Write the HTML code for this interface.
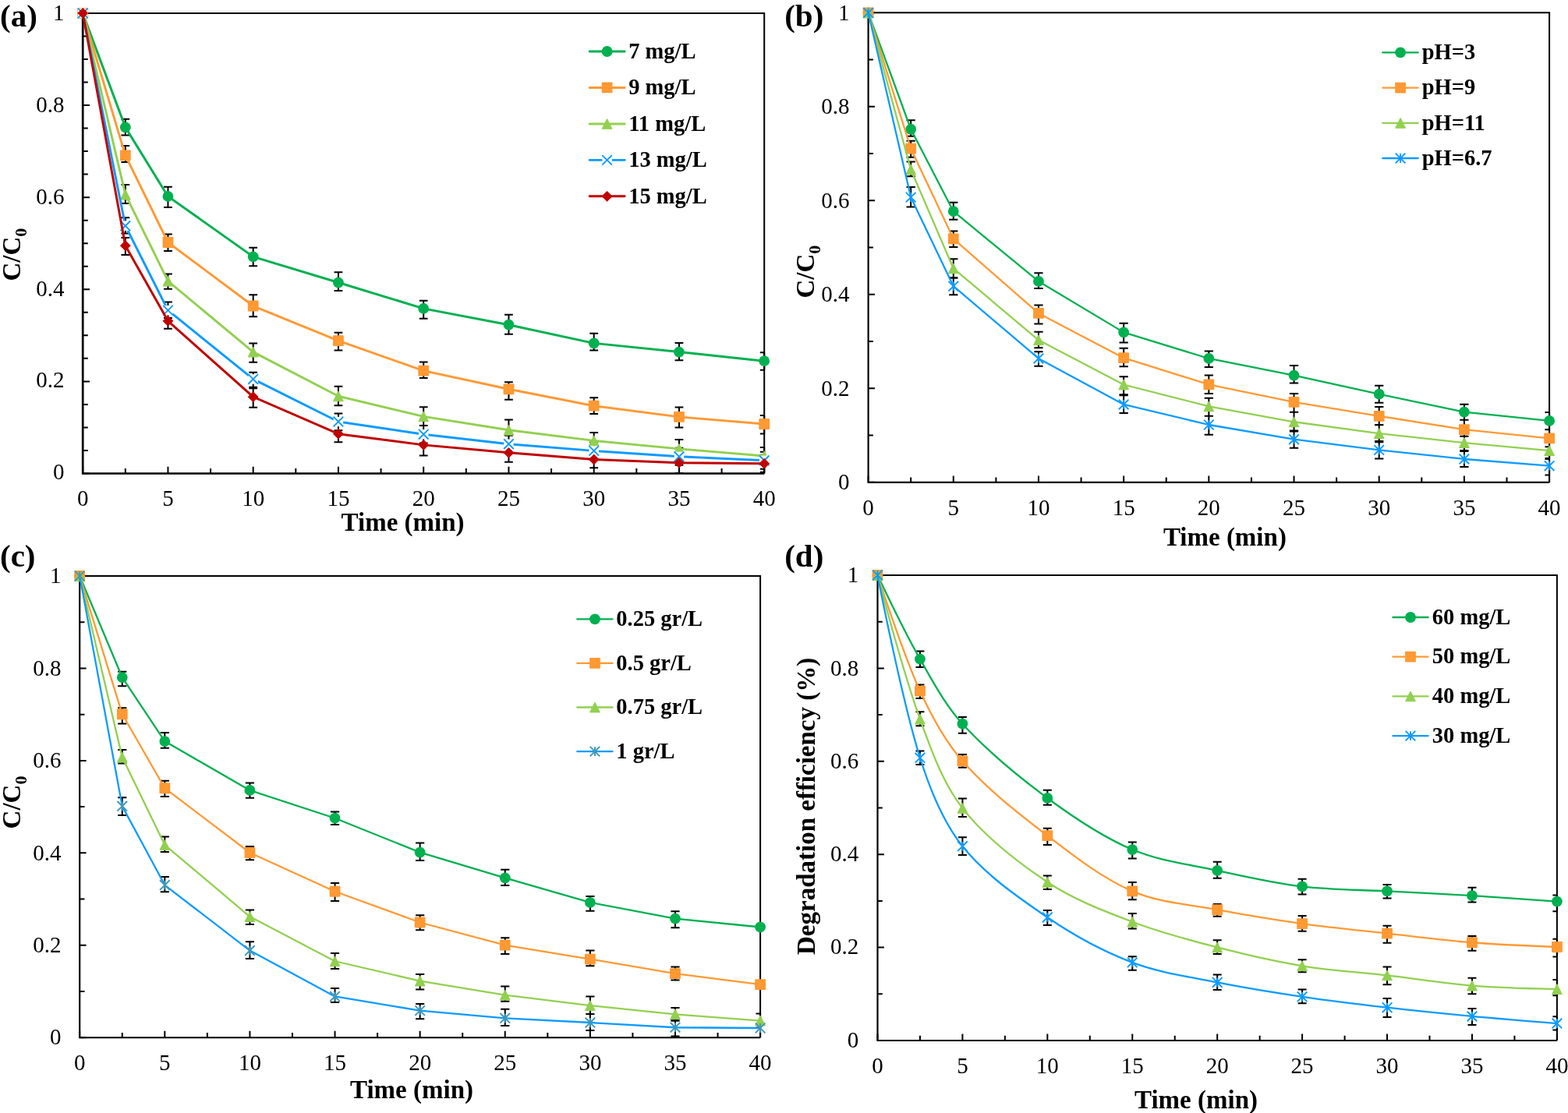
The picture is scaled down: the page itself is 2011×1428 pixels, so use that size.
<!DOCTYPE html>
<html lang="en">
<head>
<meta charset="utf-8">
<title>Degradation kinetics charts</title>
<style>
html,body{margin:0;padding:0;background:#fff;}
body{width:2011px;height:1428px;overflow:hidden;}
svg{display:block;}
text{font-family:"Liberation Serif",serif;fill:#000;font-kerning:normal;}
.tick text{font-size:29px;}
.leg{font-size:28.5px;font-weight:bold;}
.title{font-size:33px;font-weight:bold;}
.plabel{font-size:41px;font-weight:bold;}
</style>
</head>
<body>
<svg role="img" aria-label="Four line charts (a)-(d) of C/C0 and degradation efficiency versus time" width="2011" height="1428" viewBox="0 0 2011 1428">
<rect width="2011" height="1428" fill="#fff"/>
<g id="panel-a">
<path d="M106.2 16.9H980.2V607.5" fill="none" stroke="#000" stroke-width="2"/>
<path d="M106.2 607.5h8.8M106.2 577.97h6.6M106.2 548.44h6.6M106.2 518.91h6.6M106.2 489.38h8.8M106.2 459.85h6.6M106.2 430.32h6.6M106.2 400.79h6.6M106.2 371.26h8.8M106.2 341.73h6.6M106.2 312.2h6.6M106.2 282.67h6.6M106.2 253.14h8.8M106.2 223.61h6.6M106.2 194.08h6.6M106.2 164.55h6.6M106.2 135.02h8.8M106.2 105.49h6.6M106.2 75.96h6.6M106.2 46.43h6.6M106.2 16.9h8.8M106.2 607.5v-8.8M160.82 607.5v-6.6M215.45 607.5v-8.8M270.07 607.5v-6.6M324.7 607.5v-8.8M379.32 607.5v-6.6M433.95 607.5v-8.8M488.57 607.5v-6.6M543.2 607.5v-8.8M597.83 607.5v-6.6M652.45 607.5v-8.8M707.08 607.5v-6.6M761.7 607.5v-8.8M816.33 607.5v-6.6M870.95 607.5v-8.8M925.58 607.5v-6.6M980.2 607.5v-8.8" fill="none" stroke="#000" stroke-width="2"/>
<path d="M106.2 16.9V607.5H980.2" fill="none" stroke="#000" stroke-width="2.7" stroke-linejoin="miter"/>
<g class="tick">
<text x="82.4" y="615.2" text-anchor="end">0</text>
<text x="82.4" y="497.38" text-anchor="end">0.2</text>
<text x="82.4" y="379.56" text-anchor="end">0.4</text>
<text x="82.4" y="261.74" text-anchor="end">0.6</text>
<text x="82.4" y="143.92" text-anchor="end">0.8</text>
<text x="82.4" y="26.1" text-anchor="end">1</text>
<text x="106.2" y="648.7" text-anchor="middle">0</text>
<text x="215.45" y="648.7" text-anchor="middle">5</text>
<text x="324.7" y="648.7" text-anchor="middle">10</text>
<text x="433.95" y="648.7" text-anchor="middle">15</text>
<text x="543.2" y="648.7" text-anchor="middle">20</text>
<text x="652.45" y="648.7" text-anchor="middle">25</text>
<text x="761.7" y="648.7" text-anchor="middle">30</text>
<text x="870.95" y="648.7" text-anchor="middle">35</text>
<text x="980.2" y="648.7" text-anchor="middle">40</text>
</g>
<path d="M160.82 152.8V173.4M155.42 152.8H166.22M155.42 173.4H166.22M215.45 239.7V265.9M210.05 239.7H220.85M210.05 265.9H220.85M324.7 317.8V341.2M319.3 317.8H330.1M319.3 341.2H330.1M433.95 349.3V373.1M428.55 349.3H439.35M428.55 373.1H439.35M543.2 385.7V408.8M537.8 385.7H548.6M537.8 408.8H548.6M652.45 403.8V428.7M647.05 403.8H657.85M647.05 428.7H657.85M761.7 427.7V449.6M756.3 427.7H767.1M756.3 449.6H767.1M870.95 439.9V462.2M865.55 439.9H876.35M865.55 462.2H876.35M980.2 452.3V474.7M974.8 452.3H980.2M974.8 474.7H980.2M160.82 187.1V207.9M155.42 187.1H166.22M155.42 207.9H166.22M215.45 300.6V322M210.05 300.6H220.85M210.05 322H220.85M324.7 378.2V406.3M319.3 378.2H330.1M319.3 406.3H330.1M433.95 426.7V449.6M428.55 426.7H439.35M428.55 449.6H439.35M543.2 464.5V484.9M537.8 464.5H548.6M537.8 484.9H548.6M652.45 490.3V512.7M647.05 490.3H657.85M647.05 512.7H657.85M761.7 510.2V531.1M756.3 510.2H767.1M756.3 531.1H767.1M870.95 522.4V548.5M865.55 522.4H876.35M865.55 548.5H876.35M980.2 532.9V556.5M974.8 532.9H980.2M974.8 556.5H980.2M160.82 237V261.1M155.42 237H166.22M155.42 261.1H166.22M215.45 351.6V370.8M210.05 351.6H220.85M210.05 370.8H220.85M324.7 440.6V464.7M319.3 440.6H330.1M319.3 464.7H330.1M433.95 495.8V520.2M428.55 495.8H439.35M428.55 520.2H439.35M543.2 522.2V546M537.8 522.2H548.6M537.8 546H548.6M652.45 538.6V564.7M647.05 538.6H657.85M647.05 564.7H657.85M761.7 555V575.9M756.3 555H767.1M756.3 575.9H767.1M870.95 563.9V588.3M865.55 563.9H876.35M865.55 588.3H876.35M980.2 574.06V596.06M974.8 574.06H980.2M974.8 596.06H980.2M160.82 279.3V299.5M155.42 279.3H166.22M155.42 299.5H166.22M215.45 387.4V408M210.05 387.4H220.85M210.05 408H220.85M324.7 477.7V498.3M319.3 477.7H330.1M319.3 498.3H330.1M433.95 530.6V552.3M428.55 530.6H439.35M428.55 552.3H439.35M543.2 546V568.4M537.8 546H548.6M537.8 568.4H548.6M652.45 558.7V580.7M647.05 558.7H657.85M647.05 580.7H657.85M761.7 567.38V589.38M756.3 567.38H767.1M756.3 589.38H767.1M870.95 574.82V596.82M865.55 574.82H876.35M865.55 596.82H876.35M980.2 579.79V601.79M974.8 579.79H980.2M974.8 601.79H980.2M160.82 305.1V327M155.42 305.1H166.22M155.42 327H166.22M215.45 401.8V421.7M210.05 401.8H220.85M210.05 421.7H220.85M324.7 496.8V522.7M319.3 496.8H330.1M319.3 522.7H330.1M433.95 546V567.2M428.55 546H439.35M428.55 567.2H439.35M543.2 558V584.6M537.8 558H548.6M537.8 584.6H548.6M652.45 568.4V592.8M647.05 568.4H657.85M647.05 592.8H657.85M761.7 578.4V600.2M756.3 578.4H767.1M756.3 600.2H767.1M870.95 582V606.9M865.55 582H876.35M865.55 606.9H876.35M980.2 583.8V605.8M974.8 583.8H980.2M974.8 605.8H980.2" fill="none" stroke="#000" stroke-width="2"/>
<path d="M106.2 16.9L160.82 163.37L215.45 251.96L324.7 329.33L433.95 362.52L543.2 395.89L652.45 416.74L761.7 440.36L870.95 451.58L980.2 463.16" fill="none" stroke="#00B050" stroke-width="2.95" stroke-linejoin="round" stroke-linecap="round"/>
<circle cx="106.2" cy="16.9" r="6.9" fill="#00B050"/><circle cx="160.82" cy="163.37" r="6.9" fill="#00B050"/><circle cx="215.45" cy="251.96" r="6.9" fill="#00B050"/><circle cx="324.7" cy="329.33" r="6.9" fill="#00B050"/><circle cx="433.95" cy="362.52" r="6.9" fill="#00B050"/><circle cx="543.2" cy="395.89" r="6.9" fill="#00B050"/><circle cx="652.45" cy="416.74" r="6.9" fill="#00B050"/><circle cx="761.7" cy="440.36" r="6.9" fill="#00B050"/><circle cx="870.95" cy="451.58" r="6.9" fill="#00B050"/><circle cx="980.2" cy="463.16" r="6.9" fill="#00B050"/>
<path d="M106.2 16.9L160.82 199.4L215.45 311.02L324.7 392.52L433.95 437.11L543.2 475.68L652.45 499.3L761.7 520.68L870.95 534.86L980.2 544.01" fill="none" stroke="#FF9933" stroke-width="2.95" stroke-linejoin="round" stroke-linecap="round"/>
<rect x="99.3" y="10" width="13.8" height="13.8" rx="0.8" fill="#FF9933"/><rect x="153.92" y="192.5" width="13.8" height="13.8" rx="0.8" fill="#FF9933"/><rect x="208.55" y="304.12" width="13.8" height="13.8" rx="0.8" fill="#FF9933"/><rect x="317.8" y="385.62" width="13.8" height="13.8" rx="0.8" fill="#FF9933"/><rect x="427.05" y="430.21" width="13.8" height="13.8" rx="0.8" fill="#FF9933"/><rect x="536.3" y="468.78" width="13.8" height="13.8" rx="0.8" fill="#FF9933"/><rect x="645.55" y="492.4" width="13.8" height="13.8" rx="0.8" fill="#FF9933"/><rect x="754.8" y="513.78" width="13.8" height="13.8" rx="0.8" fill="#FF9933"/><rect x="864.05" y="527.96" width="13.8" height="13.8" rx="0.8" fill="#FF9933"/><rect x="973.3" y="537.11" width="13.8" height="13.8" rx="0.8" fill="#FF9933"/>
<path d="M106.2 16.9L160.82 249.6L215.45 360.63L324.7 451.58L433.95 508.28L543.2 534.38L652.45 551.81L761.7 565.39L870.95 575.9L980.2 585.06" fill="none" stroke="#92D050" stroke-width="2.95" stroke-linejoin="round" stroke-linecap="round"/>
<path d="M106.2 10.5L112.6 23.3L99.8 23.3Z" fill="#92D050" stroke="#92D050" stroke-width="1" stroke-linejoin="round"/><path d="M160.82 243.2L167.22 256L154.42 256Z" fill="#92D050" stroke="#92D050" stroke-width="1" stroke-linejoin="round"/><path d="M215.45 354.23L221.85 367.03L209.05 367.03Z" fill="#92D050" stroke="#92D050" stroke-width="1" stroke-linejoin="round"/><path d="M324.7 445.18L331.1 457.98L318.3 457.98Z" fill="#92D050" stroke="#92D050" stroke-width="1" stroke-linejoin="round"/><path d="M433.95 501.88L440.35 514.68L427.55 514.68Z" fill="#92D050" stroke="#92D050" stroke-width="1" stroke-linejoin="round"/><path d="M543.2 527.98L549.6 540.78L536.8 540.78Z" fill="#92D050" stroke="#92D050" stroke-width="1" stroke-linejoin="round"/><path d="M652.45 545.41L658.85 558.21L646.05 558.21Z" fill="#92D050" stroke="#92D050" stroke-width="1" stroke-linejoin="round"/><path d="M761.7 558.99L768.1 571.79L755.3 571.79Z" fill="#92D050" stroke="#92D050" stroke-width="1" stroke-linejoin="round"/><path d="M870.95 569.5L877.35 582.3L864.55 582.3Z" fill="#92D050" stroke="#92D050" stroke-width="1" stroke-linejoin="round"/><path d="M980.2 578.66L986.6 591.46L973.8 591.46Z" fill="#92D050" stroke="#92D050" stroke-width="1" stroke-linejoin="round"/>
<path d="M106.2 16.9L160.82 289.76L215.45 398.13L324.7 486.43L433.95 541L543.2 557.18L652.45 569.7L761.7 578.38L870.95 585.82L980.2 590.79" fill="none" stroke="#0C9BFF" stroke-width="2.95" stroke-linejoin="round" stroke-linecap="round"/>
<rect x="100" y="10.7" width="12.4" height="12.4" fill="#fff"/><path d="M99.9 10.6L112.5 23.2M99.9 23.2L112.5 10.6" stroke="#0C9BFF" stroke-width="1.9" fill="none"/><rect x="154.62" y="283.56" width="12.4" height="12.4" fill="#fff"/><path d="M154.52 283.46L167.12 296.06M154.52 296.06L167.12 283.46" stroke="#0C9BFF" stroke-width="1.9" fill="none"/><rect x="209.25" y="391.93" width="12.4" height="12.4" fill="#fff"/><path d="M209.15 391.83L221.75 404.43M209.15 404.43L221.75 391.83" stroke="#0C9BFF" stroke-width="1.9" fill="none"/><rect x="318.5" y="480.23" width="12.4" height="12.4" fill="#fff"/><path d="M318.4 480.13L331 492.73M318.4 492.73L331 480.13" stroke="#0C9BFF" stroke-width="1.9" fill="none"/><rect x="427.75" y="534.8" width="12.4" height="12.4" fill="#fff"/><path d="M427.65 534.7L440.25 547.3M427.65 547.3L440.25 534.7" stroke="#0C9BFF" stroke-width="1.9" fill="none"/><rect x="537" y="550.98" width="12.4" height="12.4" fill="#fff"/><path d="M536.9 550.88L549.5 563.48M536.9 563.48L549.5 550.88" stroke="#0C9BFF" stroke-width="1.9" fill="none"/><rect x="646.25" y="563.5" width="12.4" height="12.4" fill="#fff"/><path d="M646.15 563.4L658.75 576M646.15 576L658.75 563.4" stroke="#0C9BFF" stroke-width="1.9" fill="none"/><rect x="755.5" y="572.18" width="12.4" height="12.4" fill="#fff"/><path d="M755.4 572.08L768 584.68M755.4 584.68L768 572.08" stroke="#0C9BFF" stroke-width="1.9" fill="none"/><rect x="864.75" y="579.62" width="12.4" height="12.4" fill="#fff"/><path d="M864.65 579.52L877.25 592.12M864.65 592.12L877.25 579.52" stroke="#0C9BFF" stroke-width="1.9" fill="none"/><rect x="974" y="584.59" width="12.4" height="12.4" fill="#fff"/><path d="M973.9 584.49L986.5 597.09M973.9 597.09L986.5 584.49" stroke="#0C9BFF" stroke-width="1.9" fill="none"/>
<path d="M106.2 16.9L160.82 315.15L215.45 411.78L324.7 509.22L433.95 556.71L543.2 570.88L652.45 580.8L761.7 589.49L870.95 593.8L980.2 594.8" fill="none" stroke="#C00000" stroke-width="2.95" stroke-linejoin="round" stroke-linecap="round"/>
<path d="M106.2 10.5L112.6 16.9L106.2 23.3L99.8 16.9Z" fill="#C00000" stroke="#C00000" stroke-width="1" stroke-linejoin="round"/><path d="M160.82 308.75L167.22 315.15L160.82 321.55L154.42 315.15Z" fill="#C00000" stroke="#C00000" stroke-width="1" stroke-linejoin="round"/><path d="M215.45 405.38L221.85 411.78L215.45 418.18L209.05 411.78Z" fill="#C00000" stroke="#C00000" stroke-width="1" stroke-linejoin="round"/><path d="M324.7 502.82L331.1 509.22L324.7 515.62L318.3 509.22Z" fill="#C00000" stroke="#C00000" stroke-width="1" stroke-linejoin="round"/><path d="M433.95 550.31L440.35 556.71L433.95 563.11L427.55 556.71Z" fill="#C00000" stroke="#C00000" stroke-width="1" stroke-linejoin="round"/><path d="M543.2 564.48L549.6 570.88L543.2 577.28L536.8 570.88Z" fill="#C00000" stroke="#C00000" stroke-width="1" stroke-linejoin="round"/><path d="M652.45 574.4L658.85 580.8L652.45 587.2L646.05 580.8Z" fill="#C00000" stroke="#C00000" stroke-width="1" stroke-linejoin="round"/><path d="M761.7 583.09L768.1 589.49L761.7 595.89L755.3 589.49Z" fill="#C00000" stroke="#C00000" stroke-width="1" stroke-linejoin="round"/><path d="M870.95 587.4L877.35 593.8L870.95 600.2L864.55 593.8Z" fill="#C00000" stroke="#C00000" stroke-width="1" stroke-linejoin="round"/><path d="M980.2 588.4L986.6 594.8L980.2 601.2L973.8 594.8Z" fill="#C00000" stroke="#C00000" stroke-width="1" stroke-linejoin="round"/>
<path d="M756.18 66H801.12" stroke="#00B050" stroke-width="2.95" stroke-linecap="round" fill="none"/>
<circle cx="778.6" cy="66" r="6.9" fill="#00B050"/>
<text class="leg" x="806.2" y="74.7">7 mg/L</text>
<path d="M756.18 112.45H801.12" stroke="#FF9933" stroke-width="2.95" stroke-linecap="round" fill="none"/>
<rect x="771.7" y="105.55" width="13.8" height="13.8" rx="0.8" fill="#FF9933"/>
<text class="leg" x="806.2" y="121.15">9 mg/L</text>
<path d="M756.18 158.9H801.12" stroke="#92D050" stroke-width="2.95" stroke-linecap="round" fill="none"/>
<path d="M778.6 152.5L785 165.3L772.2 165.3Z" fill="#92D050" stroke="#92D050" stroke-width="1" stroke-linejoin="round"/>
<text class="leg" x="806.2" y="167.6">11 mg/L</text>
<path d="M756.18 205.35H801.12" stroke="#0C9BFF" stroke-width="2.95" stroke-linecap="round" fill="none"/>
<rect x="772.4" y="199.15" width="12.4" height="12.4" fill="#fff"/><path d="M772.3 199.05L784.9 211.65M772.3 211.65L784.9 199.05" stroke="#0C9BFF" stroke-width="1.9" fill="none"/>
<text class="leg" x="806.2" y="214.05">13 mg/L</text>
<path d="M756.18 251.8H801.12" stroke="#C00000" stroke-width="2.95" stroke-linecap="round" fill="none"/>
<path d="M778.6 245.4L785 251.8L778.6 258.2L772.2 251.8Z" fill="#C00000" stroke="#C00000" stroke-width="1" stroke-linejoin="round"/>
<text class="leg" x="806.2" y="260.5">15 mg/L</text>
<text class="title" transform="translate(25.7 360.6) rotate(-90)">C/C<tspan font-size="22.01" dy="8">0</tspan></text>
<text class="title" x="516.6" y="681" text-anchor="middle">Time (min)</text>
<text class="plabel" x="0" y="34.3">(a)</text>
</g>
<g id="panel-b">
<path d="M1113.6 16.35H1987.1V618.8" fill="none" stroke="#000" stroke-width="2"/>
<path d="M1113.6 618.8h8.4M1113.6 558.55h6.3M1113.6 498.31h8.4M1113.6 438.06h6.3M1113.6 377.82h8.4M1113.6 317.57h6.3M1113.6 257.33h8.4M1113.6 197.08h6.3M1113.6 136.84h8.4M1113.6 76.6h6.3M1113.6 16.35h8.4M1113.6 618.8v-8.4M1168.19 618.8v-6.3M1222.79 618.8v-8.4M1277.38 618.8v-6.3M1331.97 618.8v-8.4M1386.57 618.8v-6.3M1441.16 618.8v-8.4M1495.76 618.8v-6.3M1550.35 618.8v-8.4M1604.94 618.8v-6.3M1659.54 618.8v-8.4M1714.13 618.8v-6.3M1768.72 618.8v-8.4M1823.32 618.8v-6.3M1877.91 618.8v-8.4M1932.51 618.8v-6.3M1987.1 618.8v-8.4" fill="none" stroke="#000" stroke-width="2"/>
<path d="M1113.6 16.35V618.8H1987.1" fill="none" stroke="#000" stroke-width="2.15" stroke-linejoin="miter"/>
<g class="tick">
<text x="1089.4" y="628.4" text-anchor="end">0</text>
<text x="1089.4" y="507.83" text-anchor="end">0.2</text>
<text x="1089.4" y="387.26" text-anchor="end">0.4</text>
<text x="1089.4" y="266.69" text-anchor="end">0.6</text>
<text x="1089.4" y="146.12" text-anchor="end">0.8</text>
<text x="1089.4" y="25.55" text-anchor="end">1</text>
<text x="1113.6" y="661" text-anchor="middle">0</text>
<text x="1222.79" y="661" text-anchor="middle">5</text>
<text x="1331.97" y="661" text-anchor="middle">10</text>
<text x="1441.16" y="661" text-anchor="middle">15</text>
<text x="1550.35" y="661" text-anchor="middle">20</text>
<text x="1659.54" y="661" text-anchor="middle">25</text>
<text x="1768.72" y="661" text-anchor="middle">30</text>
<text x="1877.91" y="661" text-anchor="middle">35</text>
<text x="1987.1" y="661" text-anchor="middle">40</text>
</g>
<path d="M1168.19 154.2V174.8M1162.54 154.2H1173.84M1162.54 174.8H1173.84M1222.79 259.8V281.7M1217.14 259.8H1228.44M1217.14 281.7H1228.44M1331.97 350.3V370M1326.32 350.3H1337.62M1326.32 370H1337.62M1441.16 414.7V439.6M1435.51 414.7H1446.81M1435.51 439.6H1446.81M1550.35 450.4V471.1M1544.7 450.4H1556M1544.7 471.1H1556M1659.54 469.1V491.4M1653.89 469.1H1665.19M1653.89 491.4H1665.19M1768.72 494.72V516.72M1763.07 494.72H1774.38M1763.07 516.72H1774.38M1877.91 518.67V538.67M1872.26 518.67H1883.56M1872.26 538.67H1883.56M1987.1 528.88V550.88M1981.45 528.88H1987.1M1981.45 550.88H1987.1M1168.19 180.7V201.8M1162.54 180.7H1173.84M1162.54 201.8H1173.84M1222.79 296.4V317M1217.14 296.4H1228.44M1217.14 317H1228.44M1331.97 391.4V415.4M1326.32 391.4H1337.62M1326.32 415.4H1337.62M1441.16 446.8V470.2M1435.51 446.8H1446.81M1435.51 470.2H1446.81M1550.35 481.5V505.1M1544.7 481.5H1556M1544.7 505.1H1556M1659.54 505.1V528.7M1653.89 505.1H1665.19M1653.89 528.7H1665.19M1768.72 522V544.9M1763.07 522H1774.38M1763.07 544.9H1774.38M1877.91 538.7V559.8M1872.26 538.7H1883.56M1872.26 559.8H1883.56M1987.1 551.29V573.29M1981.45 551.29H1987.1M1981.45 573.29H1987.1M1168.19 207.6V226.3M1162.54 207.6H1173.84M1162.54 226.3H1173.84M1222.79 332.2V356.8M1217.14 332.2H1228.44M1217.14 356.8H1228.44M1331.97 425.8V446.2M1326.32 425.8H1337.62M1326.32 446.2H1337.62M1441.16 483.3V506.3M1435.51 483.3H1446.81M1435.51 506.3H1446.81M1550.35 510.8V533.7M1544.7 510.8H1556M1544.7 533.7H1556M1659.54 528.7V553.6M1653.89 528.7H1665.19M1653.89 553.6H1665.19M1768.72 545.15V567.15M1763.07 545.15H1774.38M1763.07 567.15H1774.38M1877.91 557.07V579.07M1872.26 557.07H1883.56M1872.26 579.07H1883.56M1987.1 567.07V589.07M1981.45 567.07H1987.1M1981.45 589.07H1987.1M1168.19 240V265.5M1162.54 240H1173.84M1162.54 265.5H1173.84M1222.79 356.2V378.2M1217.14 356.2H1228.44M1217.14 378.2H1228.44M1331.97 451.3V469.8M1326.32 451.3H1337.62M1326.32 469.8H1337.62M1441.16 507.2V530M1435.51 507.2H1446.81M1435.51 530H1446.81M1550.35 533.7V557.8M1544.7 533.7H1556M1544.7 557.8H1556M1659.54 552.4V574.7M1653.89 552.4H1665.19M1653.89 574.7H1665.19M1768.72 566V588.4M1763.07 566H1774.38M1763.07 588.4H1774.38M1877.91 578V599.1M1872.26 578H1883.56M1872.26 599.1H1883.56M1987.1 587.9V609.5M1981.45 587.9H1987.1M1981.45 609.5H1987.1" fill="none" stroke="#000" stroke-width="2"/>
<path d="M1113.6 16.35L1168.19 165.76L1222.79 271.19L1331.97 360.95L1441.16 426.38L1550.35 459.99L1659.54 481.56L1768.72 505.72L1877.91 528.67L1987.1 539.88" fill="none" stroke="#00B050" stroke-width="2.3" stroke-linejoin="round" stroke-linecap="round"/>
<circle cx="1113.6" cy="16.35" r="6.9" fill="#00B050"/><circle cx="1168.19" cy="165.76" r="6.9" fill="#00B050"/><circle cx="1222.79" cy="271.19" r="6.9" fill="#00B050"/><circle cx="1331.97" cy="360.95" r="6.9" fill="#00B050"/><circle cx="1441.16" cy="426.38" r="6.9" fill="#00B050"/><circle cx="1550.35" cy="459.99" r="6.9" fill="#00B050"/><circle cx="1659.54" cy="481.56" r="6.9" fill="#00B050"/><circle cx="1768.72" cy="505.72" r="6.9" fill="#00B050"/><circle cx="1877.91" cy="528.67" r="6.9" fill="#00B050"/><circle cx="1987.1" cy="539.88" r="6.9" fill="#00B050"/>
<path d="M1113.6 16.35L1168.19 190.64L1222.79 306.37L1331.97 401.92L1441.16 459.15L1550.35 493.31L1659.54 515.9L1768.72 533.79L1877.91 551.08L1987.1 562.29" fill="none" stroke="#FF9933" stroke-width="2.3" stroke-linejoin="round" stroke-linecap="round"/>
<rect x="1106.7" y="9.45" width="13.8" height="13.8" rx="0.8" fill="#FF9933"/><rect x="1161.29" y="183.74" width="13.8" height="13.8" rx="0.8" fill="#FF9933"/><rect x="1215.89" y="299.47" width="13.8" height="13.8" rx="0.8" fill="#FF9933"/><rect x="1325.07" y="395.02" width="13.8" height="13.8" rx="0.8" fill="#FF9933"/><rect x="1434.26" y="452.25" width="13.8" height="13.8" rx="0.8" fill="#FF9933"/><rect x="1543.45" y="486.41" width="13.8" height="13.8" rx="0.8" fill="#FF9933"/><rect x="1652.64" y="509" width="13.8" height="13.8" rx="0.8" fill="#FF9933"/><rect x="1761.82" y="526.89" width="13.8" height="13.8" rx="0.8" fill="#FF9933"/><rect x="1871.01" y="544.18" width="13.8" height="13.8" rx="0.8" fill="#FF9933"/><rect x="1980.2" y="555.39" width="13.8" height="13.8" rx="0.8" fill="#FF9933"/>
<path d="M1113.6 16.35L1168.19 217.57L1222.79 344.44L1331.97 436.26L1441.16 493.49L1550.35 521.38L1659.54 541.26L1768.72 556.15L1877.91 568.07L1987.1 578.07" fill="none" stroke="#92D050" stroke-width="2.3" stroke-linejoin="round" stroke-linecap="round"/>
<path d="M1113.6 9.95L1120 22.75L1107.2 22.75Z" fill="#92D050" stroke="#92D050" stroke-width="1" stroke-linejoin="round"/><path d="M1168.19 211.17L1174.59 223.97L1161.79 223.97Z" fill="#92D050" stroke="#92D050" stroke-width="1" stroke-linejoin="round"/><path d="M1222.79 338.04L1229.19 350.84L1216.39 350.84Z" fill="#92D050" stroke="#92D050" stroke-width="1" stroke-linejoin="round"/><path d="M1331.97 429.86L1338.38 442.66L1325.57 442.66Z" fill="#92D050" stroke="#92D050" stroke-width="1" stroke-linejoin="round"/><path d="M1441.16 487.09L1447.56 499.89L1434.76 499.89Z" fill="#92D050" stroke="#92D050" stroke-width="1" stroke-linejoin="round"/><path d="M1550.35 514.98L1556.75 527.78L1543.95 527.78Z" fill="#92D050" stroke="#92D050" stroke-width="1" stroke-linejoin="round"/><path d="M1659.54 534.86L1665.94 547.66L1653.14 547.66Z" fill="#92D050" stroke="#92D050" stroke-width="1" stroke-linejoin="round"/><path d="M1768.72 549.75L1775.12 562.55L1762.32 562.55Z" fill="#92D050" stroke="#92D050" stroke-width="1" stroke-linejoin="round"/><path d="M1877.91 561.67L1884.31 574.47L1871.51 574.47Z" fill="#92D050" stroke="#92D050" stroke-width="1" stroke-linejoin="round"/><path d="M1987.1 571.67L1993.5 584.47L1980.7 584.47Z" fill="#92D050" stroke="#92D050" stroke-width="1" stroke-linejoin="round"/>
<path d="M1113.6 16.35L1168.19 253.11L1222.79 367.16L1331.97 459.93L1441.16 518.91L1550.35 545L1659.54 563.68L1768.72 577.35L1877.91 588.98L1987.1 597.71" fill="none" stroke="#0C9BFF" stroke-width="2.3" stroke-linejoin="round" stroke-linecap="round"/>
<path d="M1107.3 10.05L1119.9 22.65M1107.3 22.65L1119.9 10.05M1113.6 10.45L1113.6 22.25" stroke="#0C9BFF" stroke-width="1.9" fill="none"/><path d="M1161.89 246.81L1174.49 259.41M1161.89 259.41L1174.49 246.81M1168.19 247.21L1168.19 259.01" stroke="#0C9BFF" stroke-width="1.9" fill="none"/><path d="M1216.49 360.86L1229.09 373.46M1216.49 373.46L1229.09 360.86M1222.79 361.26L1222.79 373.06" stroke="#0C9BFF" stroke-width="1.9" fill="none"/><path d="M1325.67 453.63L1338.27 466.23M1325.67 466.23L1338.27 453.63M1331.97 454.03L1331.97 465.83" stroke="#0C9BFF" stroke-width="1.9" fill="none"/><path d="M1434.86 512.61L1447.46 525.21M1434.86 525.21L1447.46 512.61M1441.16 513.01L1441.16 524.81" stroke="#0C9BFF" stroke-width="1.9" fill="none"/><path d="M1544.05 538.7L1556.65 551.3M1544.05 551.3L1556.65 538.7M1550.35 539.1L1550.35 550.9" stroke="#0C9BFF" stroke-width="1.9" fill="none"/><path d="M1653.24 557.38L1665.84 569.98M1653.24 569.98L1665.84 557.38M1659.54 557.78L1659.54 569.58" stroke="#0C9BFF" stroke-width="1.9" fill="none"/><path d="M1762.42 571.05L1775.02 583.65M1762.42 583.65L1775.02 571.05M1768.72 571.45L1768.72 583.25" stroke="#0C9BFF" stroke-width="1.9" fill="none"/><path d="M1871.61 582.68L1884.21 595.28M1871.61 595.28L1884.21 582.68M1877.91 583.08L1877.91 594.88" stroke="#0C9BFF" stroke-width="1.9" fill="none"/><path d="M1980.8 591.41L1993.4 604.01M1980.8 604.01L1993.4 591.41M1987.1 591.81L1987.1 603.61" stroke="#0C9BFF" stroke-width="1.9" fill="none"/>
<path d="M1773.35 67.4H1818.65" stroke="#00B050" stroke-width="2.3" stroke-linecap="round" fill="none"/>
<circle cx="1796.1" cy="67.4" r="6.9" fill="#00B050"/>
<text class="leg" x="1823.7" y="76.1">pH=3</text>
<path d="M1773.35 112.6H1818.65" stroke="#FF9933" stroke-width="2.3" stroke-linecap="round" fill="none"/>
<rect x="1789.2" y="105.7" width="13.8" height="13.8" rx="0.8" fill="#FF9933"/>
<text class="leg" x="1823.7" y="121.3">pH=9</text>
<path d="M1773.35 157.8H1818.65" stroke="#92D050" stroke-width="2.3" stroke-linecap="round" fill="none"/>
<path d="M1796.1 151.4L1802.5 164.2L1789.7 164.2Z" fill="#92D050" stroke="#92D050" stroke-width="1" stroke-linejoin="round"/>
<text class="leg" x="1823.7" y="166.5">pH=11</text>
<path d="M1773.35 203H1818.65" stroke="#0C9BFF" stroke-width="2.3" stroke-linecap="round" fill="none"/>
<path d="M1789.8 196.7L1802.4 209.3M1789.8 209.3L1802.4 196.7M1796.1 197.1L1796.1 208.9" stroke="#0C9BFF" stroke-width="1.9" fill="none"/>
<text class="leg" x="1823.7" y="211.7">pH=6.7</text>
<text class="title" transform="translate(1043.5 382.5) rotate(-90)">C/C<tspan font-size="22.01" dy="8">0</tspan></text>
<text class="title" x="1570.9" y="699.7" text-anchor="middle">Time (min)</text>
<text class="plabel" x="1006.2" y="34">(b)</text>
</g>
<g id="panel-c">
<path d="M102.2 739H975.1V1331.2" fill="none" stroke="#000" stroke-width="2"/>
<path d="M102.2 1331.2h8.4M102.2 1271.98h6.3M102.2 1212.76h8.4M102.2 1153.54h6.3M102.2 1094.32h8.4M102.2 1035.1h6.3M102.2 975.88h8.4M102.2 916.66h6.3M102.2 857.44h8.4M102.2 798.22h6.3M102.2 739h8.4M102.2 1331.2v-8.4M156.76 1331.2v-6.3M211.31 1331.2v-8.4M265.87 1331.2v-6.3M320.43 1331.2v-8.4M374.98 1331.2v-6.3M429.54 1331.2v-8.4M484.09 1331.2v-6.3M538.65 1331.2v-8.4M593.21 1331.2v-6.3M647.76 1331.2v-8.4M702.32 1331.2v-6.3M756.88 1331.2v-8.4M811.43 1331.2v-6.3M865.99 1331.2v-8.4M920.54 1331.2v-6.3M975.1 1331.2v-8.4" fill="none" stroke="#000" stroke-width="2"/>
<path d="M102.2 739V1331.2H975.1" fill="none" stroke="#000" stroke-width="2.15" stroke-linejoin="miter"/>
<g class="tick">
<text x="78.5" y="1340.4" text-anchor="end">0</text>
<text x="78.5" y="1221.96" text-anchor="end">0.2</text>
<text x="78.5" y="1103.52" text-anchor="end">0.4</text>
<text x="78.5" y="985.08" text-anchor="end">0.6</text>
<text x="78.5" y="866.64" text-anchor="end">0.8</text>
<text x="78.5" y="748.2" text-anchor="end">1</text>
<text x="102.2" y="1373.4" text-anchor="middle">0</text>
<text x="211.31" y="1373.4" text-anchor="middle">5</text>
<text x="320.43" y="1373.4" text-anchor="middle">10</text>
<text x="429.54" y="1373.4" text-anchor="middle">15</text>
<text x="538.65" y="1373.4" text-anchor="middle">20</text>
<text x="647.76" y="1373.4" text-anchor="middle">25</text>
<text x="756.88" y="1373.4" text-anchor="middle">30</text>
<text x="865.99" y="1373.4" text-anchor="middle">35</text>
<text x="975.1" y="1373.4" text-anchor="middle">40</text>
</g>
<path d="M156.76 861.7V880.3M151.16 861.7H162.36M151.16 880.3H162.36M211.31 940.1V959.7M205.71 940.1H216.91M205.71 959.7H216.91M320.43 1004.6V1023.7M314.82 1004.6H326.03M314.82 1023.7H326.03M429.54 1041.6V1058M423.94 1041.6H435.14M423.94 1058H435.14M538.65 1081.4V1104M533.05 1081.4H544.25M533.05 1104H544.25M647.76 1115.7V1136.1M642.16 1115.7H653.36M642.16 1136.1H653.36M756.88 1150V1168.7M751.27 1150H762.48M751.27 1168.7H762.48M865.99 1169.2V1190.3M860.39 1169.2H871.59M860.39 1190.3H871.59M156.76 908.2V928.5M151.16 908.2H162.36M151.16 928.5H162.36M211.31 1001.8V1022.1M205.71 1001.8H216.91M205.71 1022.1H216.91M320.43 1085.9V1103.3M314.82 1085.9H326.03M314.82 1103.3H326.03M429.54 1133.1V1156M423.94 1133.1H435.14M423.94 1156H435.14M538.65 1174.2V1193.3M533.05 1174.2H544.25M533.05 1193.3H544.25M647.76 1203.2V1223.9M642.16 1203.2H653.36M642.16 1223.9H653.36M756.88 1219.4V1239.3M751.27 1219.4H762.48M751.27 1239.3H762.48M865.99 1240.5V1257.4M860.39 1240.5H871.59M860.39 1257.4H871.59M156.76 962.1V979.4M151.16 962.1H162.36M151.16 979.4H162.36M211.31 1073.5V1092.9M205.71 1073.5H216.91M205.71 1092.9H216.91M320.43 1167.4V1186.1M314.82 1167.4H326.03M314.82 1186.1H326.03M429.54 1223.1V1243M423.94 1223.1H435.14M423.94 1243H435.14M538.65 1250V1269.4M533.05 1250H544.25M533.05 1269.4H544.25M647.76 1265.6V1284.8M642.16 1265.6H653.36M642.16 1284.8H653.36M756.88 1278.6V1301M751.27 1278.6H762.48M751.27 1301H762.48M865.99 1293V1309.7M860.39 1293H871.59M860.39 1309.7H871.59M975.1 1300.58V1318.58M969.5 1300.58H975.1M969.5 1318.58H975.1M156.76 1023.2V1046.1M151.16 1023.2H162.36M151.16 1046.1H162.36M211.31 1124.9V1144.3M205.71 1124.9H216.91M205.71 1144.3H216.91M320.43 1208.2V1230.1M314.82 1208.2H326.03M314.82 1230.1H326.03M429.54 1268.1V1286M423.94 1268.1H435.14M423.94 1286H435.14M538.65 1288V1307.2M533.05 1288H544.25M533.05 1307.2H544.25M647.76 1294.7V1315.9M642.16 1294.7H653.36M642.16 1315.9H653.36M756.88 1301V1322.1M751.27 1301H762.48M751.27 1322.1H762.48M865.99 1308.4V1329.5M860.39 1308.4H871.59M860.39 1329.5H871.59" fill="none" stroke="#000" stroke-width="2"/>
<path d="M102.2 739L156.76 869.05L211.31 951.07L320.43 1013.96L429.54 1049.73L538.65 1093.67L647.76 1126.3L756.88 1157.92L865.99 1178.53L975.1 1189.49" fill="none" stroke="#00B050" stroke-width="2.3" stroke-linejoin="round" stroke-linecap="round"/>
<circle cx="102.2" cy="739" r="6.9" fill="#00B050"/><circle cx="156.76" cy="869.05" r="6.9" fill="#00B050"/><circle cx="211.31" cy="951.07" r="6.9" fill="#00B050"/><circle cx="320.43" cy="1013.96" r="6.9" fill="#00B050"/><circle cx="429.54" cy="1049.73" r="6.9" fill="#00B050"/><circle cx="538.65" cy="1093.67" r="6.9" fill="#00B050"/><circle cx="647.76" cy="1126.3" r="6.9" fill="#00B050"/><circle cx="756.88" cy="1157.92" r="6.9" fill="#00B050"/><circle cx="865.99" cy="1178.53" r="6.9" fill="#00B050"/><circle cx="975.1" cy="1189.49" r="6.9" fill="#00B050"/>
<path d="M102.2 739L156.76 916.3L211.31 1011.23L320.43 1094.02L429.54 1143.77L538.65 1183.51L647.76 1212.58L756.88 1230.53L865.99 1249.12L975.1 1263.1" fill="none" stroke="#FF9933" stroke-width="2.3" stroke-linejoin="round" stroke-linecap="round"/>
<rect x="95.3" y="732.1" width="13.8" height="13.8" rx="0.8" fill="#FF9933"/><rect x="149.86" y="909.4" width="13.8" height="13.8" rx="0.8" fill="#FF9933"/><rect x="204.41" y="1004.33" width="13.8" height="13.8" rx="0.8" fill="#FF9933"/><rect x="313.53" y="1087.12" width="13.8" height="13.8" rx="0.8" fill="#FF9933"/><rect x="422.64" y="1136.87" width="13.8" height="13.8" rx="0.8" fill="#FF9933"/><rect x="531.75" y="1176.61" width="13.8" height="13.8" rx="0.8" fill="#FF9933"/><rect x="640.86" y="1205.68" width="13.8" height="13.8" rx="0.8" fill="#FF9933"/><rect x="749.98" y="1223.63" width="13.8" height="13.8" rx="0.8" fill="#FF9933"/><rect x="859.09" y="1242.22" width="13.8" height="13.8" rx="0.8" fill="#FF9933"/><rect x="968.2" y="1256.2" width="13.8" height="13.8" rx="0.8" fill="#FF9933"/>
<path d="M102.2 739L156.76 971.62L211.31 1084.07L320.43 1176.04L429.54 1233.25L538.65 1258.6L647.76 1276.72L756.88 1290.16L865.99 1301.35L975.1 1309.58" fill="none" stroke="#92D050" stroke-width="2.3" stroke-linejoin="round" stroke-linecap="round"/>
<path d="M102.2 732.6L108.6 745.4L95.8 745.4Z" fill="#92D050" stroke="#92D050" stroke-width="1" stroke-linejoin="round"/><path d="M156.76 965.22L163.16 978.02L150.36 978.02Z" fill="#92D050" stroke="#92D050" stroke-width="1" stroke-linejoin="round"/><path d="M211.31 1077.67L217.71 1090.47L204.91 1090.47Z" fill="#92D050" stroke="#92D050" stroke-width="1" stroke-linejoin="round"/><path d="M320.43 1169.64L326.82 1182.44L314.03 1182.44Z" fill="#92D050" stroke="#92D050" stroke-width="1" stroke-linejoin="round"/><path d="M429.54 1226.85L435.94 1239.65L423.14 1239.65Z" fill="#92D050" stroke="#92D050" stroke-width="1" stroke-linejoin="round"/><path d="M538.65 1252.2L545.05 1265L532.25 1265Z" fill="#92D050" stroke="#92D050" stroke-width="1" stroke-linejoin="round"/><path d="M647.76 1270.32L654.16 1283.12L641.36 1283.12Z" fill="#92D050" stroke="#92D050" stroke-width="1" stroke-linejoin="round"/><path d="M756.88 1283.76L763.27 1296.56L750.48 1296.56Z" fill="#92D050" stroke="#92D050" stroke-width="1" stroke-linejoin="round"/><path d="M865.99 1294.95L872.39 1307.75L859.59 1307.75Z" fill="#92D050" stroke="#92D050" stroke-width="1" stroke-linejoin="round"/><path d="M975.1 1303.18L981.5 1315.98L968.7 1315.98Z" fill="#92D050" stroke="#92D050" stroke-width="1" stroke-linejoin="round"/>
<path d="M102.2 739L156.76 1034.33L211.31 1135.54L320.43 1219.57L429.54 1278.49L538.65 1296.62L647.76 1306.33L756.88 1312.01L865.99 1318.23L975.1 1319" fill="none" stroke="#0C9BFF" stroke-width="2.3" stroke-linejoin="round" stroke-linecap="round"/>
<path d="M95.9 732.7L108.5 745.3M95.9 745.3L108.5 732.7M102.2 733.1L102.2 744.9" stroke="#3F98B5" stroke-width="1.9" fill="none"/><path d="M150.46 1028.03L163.06 1040.63M150.46 1040.63L163.06 1028.03M156.76 1028.43L156.76 1040.23" stroke="#3F98B5" stroke-width="1.9" fill="none"/><path d="M205.01 1129.24L217.61 1141.84M205.01 1141.84L217.61 1129.24M211.31 1129.64L211.31 1141.44" stroke="#3F98B5" stroke-width="1.9" fill="none"/><path d="M314.12 1213.27L326.73 1225.87M314.12 1225.87L326.73 1213.27M320.43 1213.67L320.43 1225.47" stroke="#3F98B5" stroke-width="1.9" fill="none"/><path d="M423.24 1272.19L435.84 1284.79M423.24 1284.79L435.84 1272.19M429.54 1272.59L429.54 1284.39" stroke="#3F98B5" stroke-width="1.9" fill="none"/><path d="M532.35 1290.32L544.95 1302.92M532.35 1302.92L544.95 1290.32M538.65 1290.72L538.65 1302.52" stroke="#3F98B5" stroke-width="1.9" fill="none"/><path d="M641.46 1300.03L654.06 1312.63M641.46 1312.63L654.06 1300.03M647.76 1300.43L647.76 1312.23" stroke="#3F98B5" stroke-width="1.9" fill="none"/><path d="M750.58 1305.71L763.17 1318.31M750.58 1318.31L763.17 1305.71M756.88 1306.11L756.88 1317.91" stroke="#3F98B5" stroke-width="1.9" fill="none"/><path d="M859.69 1311.93L872.29 1324.53M859.69 1324.53L872.29 1311.93M865.99 1312.33L865.99 1324.13" stroke="#3F98B5" stroke-width="1.9" fill="none"/><path d="M968.8 1312.7L981.4 1325.3M968.8 1325.3L981.4 1312.7M975.1 1313.1L975.1 1324.9" stroke="#3F98B5" stroke-width="1.9" fill="none"/>
<path d="M740.25 794.3H785.55" stroke="#00B050" stroke-width="2.3" stroke-linecap="round" fill="none"/>
<circle cx="763" cy="794.3" r="6.9" fill="#00B050"/>
<text class="leg" x="790.3" y="803">0.25 gr/L</text>
<path d="M740.25 850.9H785.55" stroke="#FF9933" stroke-width="2.3" stroke-linecap="round" fill="none"/>
<rect x="756.1" y="844" width="13.8" height="13.8" rx="0.8" fill="#FF9933"/>
<text class="leg" x="790.3" y="859.6">0.5 gr/L</text>
<path d="M740.25 907.5H785.55" stroke="#92D050" stroke-width="2.3" stroke-linecap="round" fill="none"/>
<path d="M763 901.1L769.4 913.9L756.6 913.9Z" fill="#92D050" stroke="#92D050" stroke-width="1" stroke-linejoin="round"/>
<text class="leg" x="790.3" y="916.2">0.75 gr/L</text>
<path d="M740.25 964.1H785.55" stroke="#0C9BFF" stroke-width="2.3" stroke-linecap="round" fill="none"/>
<path d="M756.7 957.8L769.3 970.4M756.7 970.4L769.3 957.8M763 958.2L763 970" stroke="#3F98B5" stroke-width="1.9" fill="none"/>
<text class="leg" x="790.3" y="972.8">1 gr/L</text>
<text class="title" transform="translate(25.7 1063.4) rotate(-90)">C/C<tspan font-size="22.01" dy="8">0</tspan></text>
<text class="title" x="528" y="1408.9" text-anchor="middle">Time (min)</text>
<text class="plabel" x="0" y="726.8">(c)</text>
</g>
<g id="panel-d">
<path d="M1125.5 738H1996.9V1335" fill="none" stroke="#000" stroke-width="2"/>
<path d="M1125.5 1335h8.4M1125.5 1275.3h6.3M1125.5 1215.6h8.4M1125.5 1155.9h6.3M1125.5 1096.2h8.4M1125.5 1036.5h6.3M1125.5 976.8h8.4M1125.5 917.1h6.3M1125.5 857.4h8.4M1125.5 797.7h6.3M1125.5 738h8.4M1125.5 1335v-8.4M1179.96 1335v-6.3M1234.42 1335v-8.4M1288.89 1335v-6.3M1343.35 1335v-8.4M1397.81 1335v-6.3M1452.28 1335v-8.4M1506.74 1335v-6.3M1561.2 1335v-8.4M1615.66 1335v-6.3M1670.12 1335v-8.4M1724.59 1335v-6.3M1779.05 1335v-8.4M1833.51 1335v-6.3M1887.98 1335v-8.4M1942.44 1335v-6.3M1996.9 1335v-8.4" fill="none" stroke="#000" stroke-width="2"/>
<path d="M1125.5 738V1335H1996.9" fill="none" stroke="#000" stroke-width="2.15" stroke-linejoin="miter"/>
<g class="tick">
<text x="1101.3" y="1343.7" text-anchor="end">0</text>
<text x="1101.3" y="1224.4" text-anchor="end">0.2</text>
<text x="1101.3" y="1105.1" text-anchor="end">0.4</text>
<text x="1101.3" y="985.8" text-anchor="end">0.6</text>
<text x="1101.3" y="866.5" text-anchor="end">0.8</text>
<text x="1101.3" y="747.2" text-anchor="end">1</text>
<text x="1125.5" y="1377.2" text-anchor="middle">0</text>
<text x="1234.42" y="1377.2" text-anchor="middle">5</text>
<text x="1343.35" y="1377.2" text-anchor="middle">10</text>
<text x="1452.28" y="1377.2" text-anchor="middle">15</text>
<text x="1561.2" y="1377.2" text-anchor="middle">20</text>
<text x="1670.12" y="1377.2" text-anchor="middle">25</text>
<text x="1779.05" y="1377.2" text-anchor="middle">30</text>
<text x="1887.98" y="1377.2" text-anchor="middle">35</text>
<text x="1996.9" y="1377.2" text-anchor="middle">40</text>
</g>
<path d="M1179.96 835.5V856.1M1174.46 835.5H1185.46M1174.46 856.1H1185.46M1234.42 920V940.7M1228.92 920H1239.92M1228.92 940.7H1239.92M1343.35 1013.8V1032.7M1337.85 1013.8H1348.85M1337.85 1032.7H1348.85M1452.28 1080.4V1101.4M1446.78 1080.4H1457.78M1446.78 1101.4H1457.78M1561.2 1105.8V1126.7M1555.7 1105.8H1566.7M1555.7 1126.7H1566.7M1670.12 1127.8V1147.6M1664.62 1127.8H1675.62M1664.62 1147.6H1675.62M1779.05 1135.1V1152.5M1773.55 1135.1H1784.55M1773.55 1152.5H1784.55M1887.98 1138.8V1157.5M1882.48 1138.8H1893.48M1882.48 1157.5H1893.48M1996.9 1148.5V1169.2M1991.4 1148.5H1996.9M1991.4 1169.2H1996.9M1179.96 878.5V895.9M1174.46 878.5H1185.46M1174.46 895.9H1185.46M1234.42 968V984.7M1228.92 968H1239.92M1228.92 984.7H1239.92M1343.35 1062.8V1084.1M1337.85 1062.8H1348.85M1337.85 1084.1H1348.85M1452.28 1132.1V1154.3M1446.78 1132.1H1457.78M1446.78 1154.3H1457.78M1561.2 1159.9V1175.7M1555.7 1159.9H1566.7M1555.7 1175.7H1566.7M1670.12 1175V1194.8M1664.62 1175H1675.62M1664.62 1194.8H1675.62M1779.05 1187.8V1209.7M1773.55 1187.8H1784.55M1773.55 1209.7H1784.55M1887.98 1201V1219.7M1882.48 1201H1893.48M1882.48 1219.7H1893.48M1996.9 1204.7V1227.6M1991.4 1204.7H1996.9M1991.4 1227.6H1996.9M1179.96 913.3V931.2M1174.46 913.3H1185.46M1174.46 931.2H1185.46M1234.42 1024.5V1048.1M1228.92 1024.5H1239.92M1228.92 1048.1H1239.92M1343.35 1123.4V1141.1M1337.85 1123.4H1348.85M1337.85 1141.1H1348.85M1452.28 1172V1191.6M1446.78 1172H1457.78M1446.78 1191.6H1457.78M1561.2 1206.2V1224M1555.7 1206.2H1566.7M1555.7 1224H1566.7M1670.12 1231.3V1247.3M1664.62 1231.3H1675.62M1664.62 1247.3H1675.62M1779.05 1240.5V1263.2M1773.55 1240.5H1784.55M1773.55 1263.2H1784.55M1887.98 1254.7V1275.3M1882.48 1254.7H1893.48M1882.48 1275.3H1893.48M1996.9 1256.9V1277.3M1991.4 1256.9H1996.9M1991.4 1277.3H1996.9M1179.96 963.6V981M1174.46 963.6H1185.46M1174.46 981H1185.46M1234.42 1074.2V1097.1M1228.92 1074.2H1239.92M1228.92 1097.1H1239.92M1343.35 1167.9V1187.1M1337.85 1167.9H1348.85M1337.85 1187.1H1348.85M1452.28 1227.2V1244.7M1446.78 1227.2H1457.78M1446.78 1244.7H1457.78M1561.2 1250.5V1269.9M1555.7 1250.5H1566.7M1555.7 1269.9H1566.7M1670.12 1269.4V1287.3M1664.62 1269.4H1675.62M1664.62 1287.3H1675.62M1779.05 1281.1V1304.9M1773.55 1281.1H1784.55M1773.55 1304.9H1784.55M1887.98 1294V1315.1M1882.48 1294H1893.48M1882.48 1315.1H1893.48M1996.9 1304.2V1321.6M1991.4 1304.2H1996.9M1991.4 1321.6H1996.9" fill="none" stroke="#000" stroke-width="2"/>
<path d="M1125.5 738C1125.5 738 1160.06 810.73 1179.96 845.58C1196.37 874.31 1212.24 904.52 1234.42 928.74C1266.71 963.99 1304.74 995.37 1343.35 1023.96C1377.35 1049.14 1413.66 1073.58 1452.28 1090.05C1486.28 1104.55 1524.68 1108.91 1561.2 1116.86C1597.29 1124.71 1633.53 1132.99 1670.12 1137.45C1706.14 1141.84 1742.74 1141.47 1779.05 1143.42C1815.36 1145.37 1851.68 1146.97 1887.98 1149.15C1924.3 1151.34 1996.9 1156.56 1996.9 1156.56" fill="none" stroke="#00B050" stroke-width="2.3" stroke-linejoin="round" stroke-linecap="round"/>
<circle cx="1125.5" cy="738" r="6.9" fill="#00B050"/><circle cx="1179.96" cy="845.58" r="6.9" fill="#00B050"/><circle cx="1234.42" cy="928.74" r="6.9" fill="#00B050"/><circle cx="1343.35" cy="1023.96" r="6.9" fill="#00B050"/><circle cx="1452.28" cy="1090.05" r="6.9" fill="#00B050"/><circle cx="1561.2" cy="1116.86" r="6.9" fill="#00B050"/><circle cx="1670.12" cy="1137.45" r="6.9" fill="#00B050"/><circle cx="1779.05" cy="1143.42" r="6.9" fill="#00B050"/><circle cx="1887.98" cy="1149.15" r="6.9" fill="#00B050"/><circle cx="1996.9" cy="1156.56" r="6.9" fill="#00B050"/>
<path d="M1125.5 738C1125.5 738 1158.15 838.82 1179.96 886.59C1194.45 918.32 1211.53 950.5 1234.42 976.5C1265.99 1012.35 1305.09 1042.83 1343.35 1072.14C1377.71 1098.47 1413.16 1126.35 1452.28 1143.42C1485.78 1158.05 1524.71 1160.25 1561.2 1167.24C1597.33 1174.16 1633.69 1180.07 1670.12 1185.15C1706.31 1190.2 1742.73 1193.61 1779.05 1197.63C1815.34 1201.65 1851.59 1206.37 1887.98 1209.27C1924.21 1212.16 1996.9 1215 1996.9 1215" fill="none" stroke="#FF9933" stroke-width="2.3" stroke-linejoin="round" stroke-linecap="round"/>
<rect x="1118.6" y="731.1" width="13.8" height="13.8" rx="0.8" fill="#FF9933"/><rect x="1173.06" y="879.69" width="13.8" height="13.8" rx="0.8" fill="#FF9933"/><rect x="1227.52" y="969.6" width="13.8" height="13.8" rx="0.8" fill="#FF9933"/><rect x="1336.45" y="1065.24" width="13.8" height="13.8" rx="0.8" fill="#FF9933"/><rect x="1445.38" y="1136.52" width="13.8" height="13.8" rx="0.8" fill="#FF9933"/><rect x="1554.3" y="1160.34" width="13.8" height="13.8" rx="0.8" fill="#FF9933"/><rect x="1663.22" y="1178.25" width="13.8" height="13.8" rx="0.8" fill="#FF9933"/><rect x="1772.15" y="1190.73" width="13.8" height="13.8" rx="0.8" fill="#FF9933"/><rect x="1881.08" y="1202.37" width="13.8" height="13.8" rx="0.8" fill="#FF9933"/><rect x="1990" y="1208.1" width="13.8" height="13.8" rx="0.8" fill="#FF9933"/>
<path d="M1125.5 738C1125.5 738 1158.06 862.5 1179.96 922.59C1194.37 962.12 1208.99 1004.3 1234.42 1036.86C1263.45 1074.03 1303.72 1105.25 1343.35 1131.78C1376.33 1153.86 1414.96 1168.37 1452.28 1182.71C1487.58 1196.27 1524.53 1205.95 1561.2 1215.48C1597.15 1224.82 1633.5 1233.26 1670.12 1239.3C1706.12 1245.24 1742.76 1247.19 1779.05 1251.42C1815.38 1255.65 1851.55 1261.71 1887.98 1264.67C1924.17 1267.62 1996.9 1269.15 1996.9 1269.15" fill="none" stroke="#92D050" stroke-width="2.3" stroke-linejoin="round" stroke-linecap="round"/>
<path d="M1125.5 731.6L1131.9 744.4L1119.1 744.4Z" fill="#92D050" stroke="#92D050" stroke-width="1" stroke-linejoin="round"/><path d="M1179.96 916.19L1186.36 928.99L1173.56 928.99Z" fill="#92D050" stroke="#92D050" stroke-width="1" stroke-linejoin="round"/><path d="M1234.42 1030.46L1240.83 1043.26L1228.02 1043.26Z" fill="#92D050" stroke="#92D050" stroke-width="1" stroke-linejoin="round"/><path d="M1343.35 1125.38L1349.75 1138.18L1336.95 1138.18Z" fill="#92D050" stroke="#92D050" stroke-width="1" stroke-linejoin="round"/><path d="M1452.28 1176.31L1458.68 1189.11L1445.88 1189.11Z" fill="#92D050" stroke="#92D050" stroke-width="1" stroke-linejoin="round"/><path d="M1561.2 1209.08L1567.6 1221.88L1554.8 1221.88Z" fill="#92D050" stroke="#92D050" stroke-width="1" stroke-linejoin="round"/><path d="M1670.12 1232.9L1676.53 1245.7L1663.72 1245.7Z" fill="#92D050" stroke="#92D050" stroke-width="1" stroke-linejoin="round"/><path d="M1779.05 1245.02L1785.45 1257.82L1772.65 1257.82Z" fill="#92D050" stroke="#92D050" stroke-width="1" stroke-linejoin="round"/><path d="M1887.98 1258.27L1894.38 1271.07L1881.58 1271.07Z" fill="#92D050" stroke="#92D050" stroke-width="1" stroke-linejoin="round"/><path d="M1996.9 1262.75L2003.3 1275.55L1990.5 1275.55Z" fill="#92D050" stroke="#92D050" stroke-width="1" stroke-linejoin="round"/>
<path d="M1125.5 738C1125.5 738 1156.13 896.17 1179.96 972.26C1192.44 1012.11 1208.83 1053.74 1234.42 1085.81C1263.29 1121.98 1304.49 1150.38 1343.35 1176.97C1377.1 1200.07 1414.19 1220.29 1452.28 1234.88C1486.81 1248.11 1524.66 1253.06 1561.2 1260.43C1597.28 1267.71 1633.71 1273.42 1670.12 1278.82C1706.33 1284.19 1742.69 1288.54 1779.05 1292.73C1815.31 1296.92 1851.63 1300.56 1887.98 1303.96C1924.25 1307.35 1996.9 1313.09 1996.9 1313.09" fill="none" stroke="#0C9BFF" stroke-width="2.3" stroke-linejoin="round" stroke-linecap="round"/>
<path d="M1119.2 731.7L1131.8 744.3M1119.2 744.3L1131.8 731.7M1125.5 732.1L1125.5 743.9" stroke="#0C9BFF" stroke-width="1.9" fill="none"/><path d="M1173.66 965.96L1186.26 978.56M1173.66 978.56L1186.26 965.96M1179.96 966.36L1179.96 978.16" stroke="#0C9BFF" stroke-width="1.9" fill="none"/><path d="M1228.12 1079.51L1240.72 1092.11M1228.12 1092.11L1240.72 1079.51M1234.42 1079.91L1234.42 1091.71" stroke="#0C9BFF" stroke-width="1.9" fill="none"/><path d="M1337.05 1170.67L1349.65 1183.27M1337.05 1183.27L1349.65 1170.67M1343.35 1171.07L1343.35 1182.87" stroke="#0C9BFF" stroke-width="1.9" fill="none"/><path d="M1445.98 1228.58L1458.58 1241.18M1445.98 1241.18L1458.58 1228.58M1452.28 1228.98L1452.28 1240.78" stroke="#0C9BFF" stroke-width="1.9" fill="none"/><path d="M1554.9 1254.13L1567.5 1266.73M1554.9 1266.73L1567.5 1254.13M1561.2 1254.53L1561.2 1266.33" stroke="#0C9BFF" stroke-width="1.9" fill="none"/><path d="M1663.83 1272.52L1676.42 1285.12M1663.83 1285.12L1676.42 1272.52M1670.12 1272.92L1670.12 1284.72" stroke="#0C9BFF" stroke-width="1.9" fill="none"/><path d="M1772.75 1286.43L1785.35 1299.03M1772.75 1299.03L1785.35 1286.43M1779.05 1286.83L1779.05 1298.63" stroke="#0C9BFF" stroke-width="1.9" fill="none"/><path d="M1881.68 1297.66L1894.28 1310.26M1881.68 1310.26L1894.28 1297.66M1887.98 1298.06L1887.98 1309.86" stroke="#0C9BFF" stroke-width="1.9" fill="none"/><path d="M1990.6 1306.79L2003.2 1319.39M1990.6 1319.39L2003.2 1306.79M1996.9 1307.19L1996.9 1318.99" stroke="#0C9BFF" stroke-width="1.9" fill="none"/>
<path d="M1786.45 792H1831.55" stroke="#00B050" stroke-width="2.3" stroke-linecap="round" fill="none"/>
<circle cx="1809" cy="792" r="6.9" fill="#00B050"/>
<text class="leg" x="1836.8" y="800.7">60 mg/L</text>
<path d="M1786.45 842.7H1831.55" stroke="#FF9933" stroke-width="2.3" stroke-linecap="round" fill="none"/>
<rect x="1802.1" y="835.8" width="13.8" height="13.8" rx="0.8" fill="#FF9933"/>
<text class="leg" x="1836.8" y="851.4">50 mg/L</text>
<path d="M1786.45 893.4H1831.55" stroke="#92D050" stroke-width="2.3" stroke-linecap="round" fill="none"/>
<path d="M1809 887L1815.4 899.8L1802.6 899.8Z" fill="#92D050" stroke="#92D050" stroke-width="1" stroke-linejoin="round"/>
<text class="leg" x="1836.8" y="902.1">40 mg/L</text>
<path d="M1786.45 944.1H1831.55" stroke="#0C9BFF" stroke-width="2.3" stroke-linecap="round" fill="none"/>
<path d="M1802.7 937.8L1815.3 950.4M1802.7 950.4L1815.3 937.8M1809 938.2L1809 950" stroke="#0C9BFF" stroke-width="1.9" fill="none"/>
<text class="leg" x="1836.8" y="952.8">30 mg/L</text>
<text class="title" transform="translate(1045.2 1225) rotate(-90)">Degradation efficiency (%)</text>
<text class="title" x="1534" y="1421.6" text-anchor="middle">Time (min)</text>
<text class="plabel" x="1006.2" y="726.8">(d)</text>
</g>
</svg>
</body>
</html>
